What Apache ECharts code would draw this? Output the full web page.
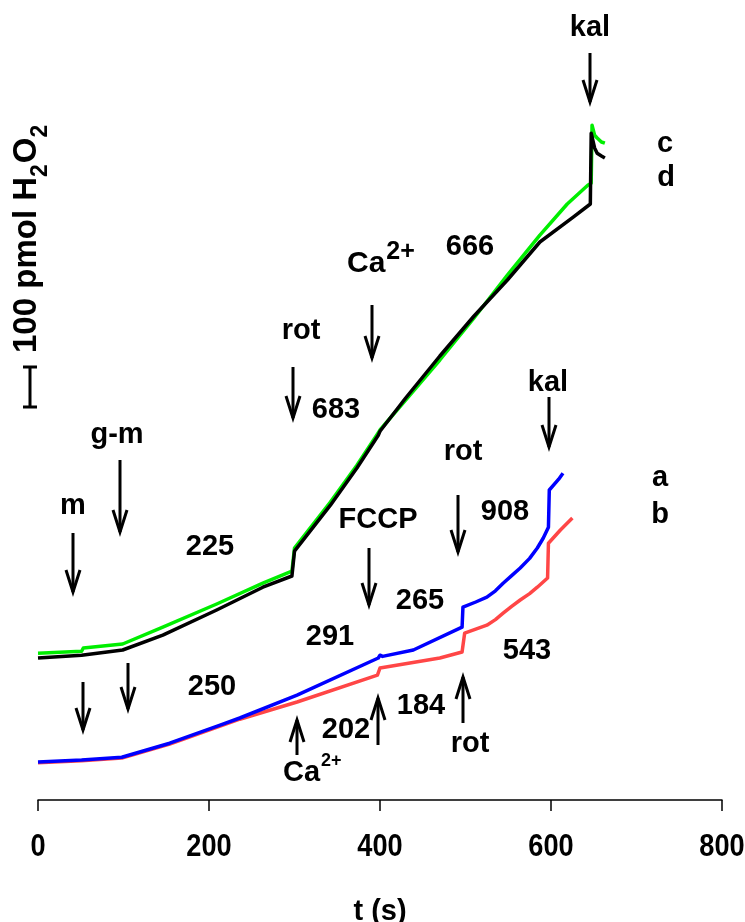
<!DOCTYPE html>
<html>
<head>
<meta charset="utf-8">
<script src="https://cdn.jsdelivr.net/npm/echarts@6/dist/echarts.min.js"></script>
<style>
html, body { margin: 0; padding: 0; background: #fff; }
#chart { width: 745px; height: 922px; }
</style>
</head>
<body>
<div id="chart"></div>
<script>
// H2O2 release traces: [time (s), H2O2 (pmol, arbitrary offset)]
const traceC = [
  [0, 367], [51, 372], [53, 380], [99, 390], [146, 432], [209, 490], [263, 542],
  [297, 572], [300, 630], [342, 745], [373, 837], [398, 918], [400, 925], [402, 924],
  [430, 1000], [470, 1100], [510, 1205], [549, 1312], [587, 1412], [619, 1490],
  [643, 1537], [647, 1542],
  [648, 1687], [651, 1662], [654, 1655], [659, 1645], [663, 1642]
];
const traceD = [
  [0, 355], [51, 362], [53, 367], [99, 375], [146, 412], [209, 475], [263, 532],
  [297, 560], [300, 622], [342, 737], [373, 830], [398, 912], [400, 922], [402, 920],
  [430, 1005], [470, 1110], [510, 1210], [549, 1300], [587, 1395], [626, 1457],
  [646, 1490], [647, 1667], [651, 1630], [654, 1617], [659, 1610], [663, 1605]
];
const traceA = [
  [0, 95], [51, 100], [98, 107], [154, 142], [213, 187], [236, 205], [303, 262],
  [398, 355], [400, 362], [403, 359], [439, 375], [496, 432], [497, 482],
  [512, 495], [525, 507], [535, 523], [544, 542], [554, 561], [564, 580],
  [575, 604], [584, 630], [591, 655], [597, 682], [598, 775],
  [609, 802], [614, 817]
];
const traceB = [
  [0, 93], [51, 98], [98, 105], [154, 140], [213, 185], [236, 202], [303, 245],
  [397, 312], [400, 330], [470, 355], [496, 370], [499, 417], [512, 427], [525, 437],
  [535, 451], [544, 467], [554, 484], [564, 500], [575, 516], [584, 532], [596, 555],
  [597, 642], [611, 675], [625, 705]
];
const xTicks = [0, 200, 400, 600, 800];

const FONT = '"Liberation Sans", Arial, Helvetica, sans-serif';

const measureCtx = document.createElement('canvas').getContext('2d');
function textWidth(s, size) {
  measureCtx.font = 'bold ' + size + 'px ' + FONT;
  return measureCtx.measureText(s).width;
}

function txt(s, cx, cy, size, align) {
  return {
    type: 'text', x: cx, y: cy, silent: true,
    style: {
      text: s, font: 'bold ' + size + 'px ' + FONT, fill: '#000',
      textAlign: align || 'center', textVerticalAlign: 'middle'
    }
  };
}

// vertical arrow with an open V head
function arrow(x, yTail, yHead) {
  const d = yHead > yTail ? 1 : -1;
  return [
    { type: 'line', silent: true, shape: { x1: x, y1: yTail, x2: x, y2: yHead },
      style: { stroke: '#000', lineWidth: 3 } },
    { type: 'polyline', silent: true,
      shape: { points: [[x - 7, yHead - d * 22], [x, yHead], [x + 7, yHead - d * 22]] },
      style: { stroke: '#000', fill: null, lineWidth: 3, lineJoin: 'miter' } }
  ];
}

// "Ca" with superscript "2+"
function calcium(left, baseMid, size, supSize, supRise) {
  const w = textWidth('Ca', size);
  return [
    txt('Ca', left, baseMid, size, 'left'),
    txt('2+', left + w + 1, baseMid - supRise, supSize, 'left')
  ];
}

// rotated scale label "100 pmol H2O2"
function scaleLabel() {
  const big = 33, small = 23;
  const parts = [['100 pmol H', big, 0], ['2', small, 14], ['O', big, 0], ['2', small, 14]];
  const children = [];
  let x = 0;
  parts.forEach(function (p) {
    children.push({
      type: 'text', x: x, y: -12 + p[2], silent: true,
      style: { text: p[0], font: 'bold ' + p[1] + 'px ' + FONT, fill: '#000',
               textAlign: 'left', textVerticalAlign: 'middle' }
    });
    x += textWidth(p[0], p[1]) + (p[1] === small ? 1 : 0);
  });
  return { type: 'group', x: 39, y: 353, rotation: Math.PI / 2, children: children };
}

const graphics = [].concat(
  [scaleLabel()],
  // scale bar
  [
    { type: 'line', silent: true, shape: { x1: 30, y1: 367, x2: 30, y2: 407 }, style: { stroke: '#000', lineWidth: 3 } },
    { type: 'line', silent: true, shape: { x1: 23, y1: 367, x2: 37, y2: 367 }, style: { stroke: '#000', lineWidth: 3 } },
    { type: 'line', silent: true, shape: { x1: 23, y1: 407, x2: 37, y2: 407 }, style: { stroke: '#000', lineWidth: 3 } }
  ],
  // upper traces (c, d)
  [txt('kal', 590, 28, 29)], arrow(590, 53, 102),
  [txt('c', 665, 144, 29), txt('d', 666, 178, 29)],
  calcium(347, 264, 30, 25, 12), arrow(372, 305, 358),
  [txt('666', 470, 247, 29)],
  [txt('rot', 301, 331, 29)], arrow(293, 367, 418),
  [txt('683', 336, 410, 29)],
  [txt('g-m', 117, 435, 29)], arrow(120, 460, 532),
  [txt('m', 73, 506, 29)], arrow(73, 533, 592),
  [txt('225', 210, 547, 29)],
  // lower traces (a, b)
  [txt('kal', 548, 383, 29)], arrow(549, 397, 447),
  [txt('a', 660, 478, 29), txt('b', 660, 515, 29)],
  [txt('rot', 463, 452, 29)], arrow(458, 495, 552),
  [txt('908', 505, 512, 29)],
  [txt('FCCP', 378, 520, 29)], arrow(369, 548, 605),
  [txt('265', 420, 601, 29)],
  [txt('291', 330, 637, 29)],
  [txt('543', 527, 651, 29)],
  arrow(83, 682, 730), arrow(128, 663, 709),
  [txt('250', 212, 687, 29)],
  arrow(297, 755, 720), calcium(283, 773, 29, 18, 12),
  [txt('202', 346, 730, 29)],
  arrow(378, 745, 698),
  [txt('184', 421, 706, 29)],
  arrow(463, 723, 677),
  [txt('rot', 470, 744, 29)]
);

function line(name, data, color) {
  return {
    name: name, type: 'line', data: data, showSymbol: false, silent: true,
    lineStyle: { color: color, width: 3.5, join: 'round' }, itemStyle: { color: color }
  };
}

const chart = echarts.init(document.getElementById('chart'));
chart.setOption({
  animation: false,
  backgroundColor: '#fff',
  grid: { left: 38, right: 23, top: 100, bottom: 122, containLabel: false, outerBoundsMode: 'none' },
  xAxis: {
    type: 'value', min: xTicks[0], max: xTicks[xTicks.length - 1],
    interval: xTicks[1] - xTicks[0],
    name: 't (s)', nameLocation: 'middle', nameGap: 97,
    nameTextStyle: { fontFamily: FONT, fontWeight: 'bold', fontSize: 29, color: '#000' },
    axisLine: { onZero: false, lineStyle: { color: '#000', width: 1.5 } },
    axisTick: { length: 11, lineStyle: { color: '#000', width: 1.5 } },
    axisLabel: { show: false },
    splitLine: { show: false }
  },
  yAxis: { type: 'value', min: 0, max: 1750, show: false },
  series: [
    line('b', traceB, '#ff4646'),
    line('a', traceA, '#0000ff'),
    line('c', traceC, '#00ee00'),
    line('d', traceD, '#000000')
  ]
});

// condensed tick labels placed at the axis' own tick positions
const tickLabels = xTicks.map(function (v) {
  const px = chart.convertToPixel({ xAxisIndex: 0 }, v);
  return {
    type: 'text', x: px, y: 847, scaleX: 0.85, silent: true,
    style: { text: String(v), font: 'bold 32px ' + FONT, fill: '#000',
             textAlign: 'center', textVerticalAlign: 'middle' }
  };
});
chart.setOption({ graphic: { elements: graphics.concat(tickLabels) } });
</script>
</body>
</html>
